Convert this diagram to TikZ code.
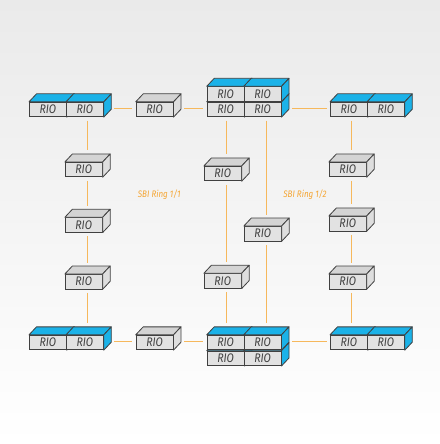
\documentclass[tikz,border=0pt]{standalone}
\usepackage{fontspec}
\setmainfont{Fira Sans}
\newfontfamily\riofont[FakeStretch=0.85]{Fira Sans}
\usetikzlibrary{calc}
\definecolor{bgtop}{RGB}{234,234,234}
\definecolor{riofront}{RGB}{226,226,226}
\definecolor{riotop}{RGB}{212,212,212}
\definecolor{rioside}{RGB}{222,222,222}
\definecolor{rioblue}{RGB}{27,178,232}
\definecolor{rioedge}{RGB}{64,64,64}
\definecolor{ringline}{RGB}{246,184,92}
\definecolor{ringtext}{RGB}{245,165,50}
\tikzset{
  front/.style={draw=rioedge, fill=riofront, line width=0.8bp, minimum width=37bp,
    minimum height=14.5bp, inner sep=0pt, anchor=north west,
    font=\riofont\itshape\fontsize{12.5}{12.5}\selectfont, text=rioedge},
  face/.style={draw=rioedge, line width=0.8bp, line join=round},
  link/.style={draw=ringline, line width=1.4bp},
  ringlabel/.style={font=\riofont\itshape\fontsize{9.5}{9.5}\selectfont, text=ringtext}
}
% name, x, y, top colour, side colour
\newcommand{\riobox}[5]{%
  \node[front] (#1) at (#2,#3) {RIO};
  \filldraw[face, fill=#4] (#1.north west) -- ++(7.5,-8) -- ($(#1.north east)+(7.5,-8)$) -- (#1.north east) -- cycle;
  \filldraw[face, fill=#5] (#1.north east) -- ++(7.5,-8) -- ($(#1.south east)+(7.5,-8)$) -- (#1.south east) -- cycle;
}
\newcommand{\hlink}[2]{%
  \draw[link] ($(#1.east)+(10.5,-1)$) -- ($(#2.west |- #1.east)+(-3.5,-1)$);
}
% upper, lower, node giving the x
\newcommand{\vlink}[3]{%
  \draw[link] ($(#1.south -| #3.south)+(3.75,3.5)$) -- ($(#2.north -| #3.south)+(3.75,-11.5)$);
}
\begin{document}
\begin{tikzpicture}[x=1bp,y=-1bp]
\useasboundingbox (0,0) rectangle (440,444);
\shade[top color=bgtop, bottom color=white] (0,0) rectangle (440,444);

% top row
\riobox{tla}{29}{101.85}{rioblue}{rioblue}
\riobox{tlb}{66}{101.85}{rioblue}{rioblue}
\riobox{ts}{135.7}{101.85}{riotop}{rioside}
\riobox{tsla}{206.7}{101.85}{rioblue}{rioblue}
\riobox{tslb}{243.7}{101.85}{rioblue}{rioblue}
\riobox{tsua}{206.7}{86.35}{rioblue}{rioblue}
\riobox{tsub}{243.7}{86.35}{rioblue}{rioblue}
\riobox{tra}{330}{101.85}{rioblue}{rioblue}
\riobox{trb}{367}{101.85}{rioblue}{rioblue}

% left column
\riobox{l1}{64.85}{162}{riotop}{rioside}
\riobox{l2}{64.85}{217.3}{riotop}{rioside}
\riobox{l3}{64.85}{274}{riotop}{rioside}

% middle columns
\riobox{m1}{203.85}{166}{riotop}{rioside}
\riobox{m2}{203.85}{273.3}{riotop}{rioside}
\riobox{mr}{243.85}{226}{riotop}{rioside}

% right column
\riobox{r1}{328.85}{162}{riotop}{rioside}
\riobox{r2}{328.85}{216}{riotop}{rioside}
\riobox{r3}{328.85}{274}{riotop}{rioside}

% bottom row
\riobox{bla}{29}{334.85}{rioblue}{rioblue}
\riobox{blb}{66}{334.85}{rioblue}{rioblue}
\riobox{bs}{135.7}{334.85}{riotop}{rioside}
\riobox{bsla}{206.7}{350.7}{rioblue}{rioblue}
\riobox{bslb}{243.7}{350.7}{rioblue}{rioblue}
\riobox{bsua}{206.7}{334.85}{rioblue}{rioblue}
\riobox{bsub}{243.7}{334.85}{rioblue}{rioblue}
\riobox{bra}{330}{334.85}{rioblue}{rioblue}
\riobox{brb}{367}{334.85}{rioblue}{rioblue}

% horizontal links
\hlink{tlb}{ts}
\hlink{ts}{tsla}
\hlink{tslb}{tra}
\hlink{blb}{bs}
\hlink{bs}{bsua}
\hlink{bsub}{bra}

% vertical links
\vlink{tlb}{l1}{l1}
\vlink{l1}{l2}{l1}
\vlink{l2}{l3}{l1}
\vlink{l3}{blb}{l1}
\vlink{tsla}{m1}{m1}
\vlink{m1}{m2}{m1}
\vlink{m2}{bsua}{m1}
\vlink{tslb}{mr}{mr}
\vlink{mr}{bsub}{mr}
\vlink{tra}{r1}{r1}
\vlink{r1}{r2}{r1}
\vlink{r2}{r3}{r1}
\vlink{r3}{bra}{r1}

% labels
\node[ringlabel] (ring1) at (159.2,195) {SBI Ring 1/1};
\node[ringlabel] (ring2) at (305,195) {SBI Ring 1/2};
\end{tikzpicture}
\end{document}
